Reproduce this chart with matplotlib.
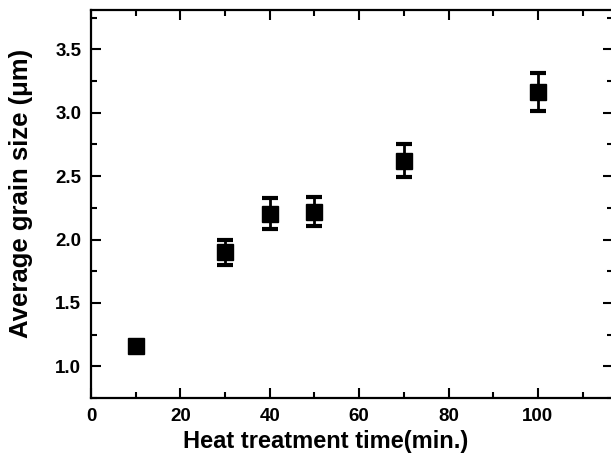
import matplotlib.pyplot as plt
from matplotlib.ticker import MultipleLocator

# data
time_min = [10, 30, 40, 50, 70, 100]
grain_size = [1.16, 1.90, 2.205, 2.22, 2.62, 3.165]
grain_err = [0.02, 0.10, 0.12, 0.115, 0.13, 0.15]

plt.rcParams['font.family'] = ['Liberation Sans', 'DejaVu Sans']
plt.rcParams['font.weight'] = 'bold'

fig = plt.figure(figsize=(6.11, 4.62), dpi=100)
# right spine sits just past the image edge, as in the reference
ax = fig.add_axes([91 / 611, 1 - 398 / 462, (613 - 91) / 611, (398 - 10) / 462])

ax.errorbar(time_min, grain_size, yerr=grain_err, fmt='s', color='black',
            markersize=12, elinewidth=2, capsize=5.5, capthick=3)

ax.set_xlim(0, 116.8)
ax.set_ylim(0.75, 3.81)
ax.xaxis.set_major_locator(MultipleLocator(20))
ax.xaxis.set_minor_locator(MultipleLocator(10))
ax.yaxis.set_major_locator(MultipleLocator(0.5))
ax.yaxis.set_minor_locator(MultipleLocator(0.25))
ax.tick_params(which='both', direction='in', top=True, right=True, width=1.5)
ax.tick_params(which='major', length=7, labelsize=13.5, pad=7)
ax.tick_params(which='minor', length=4)
for s in ax.spines.values():
    s.set_linewidth(1.6)

ax.set_xlabel('Heat treatment time(min.)', fontsize=17, fontweight='bold')
ax.set_ylabel('Average grain size (\u03bcm)', fontsize=18.5, fontweight='bold')
# labels are a bit off-centre in the original
ax.xaxis.set_label_coords(0.45, -0.082)
ax.yaxis.set_label_coords(-0.112, 0.528)

fig.savefig('out.png', dpi=100)
